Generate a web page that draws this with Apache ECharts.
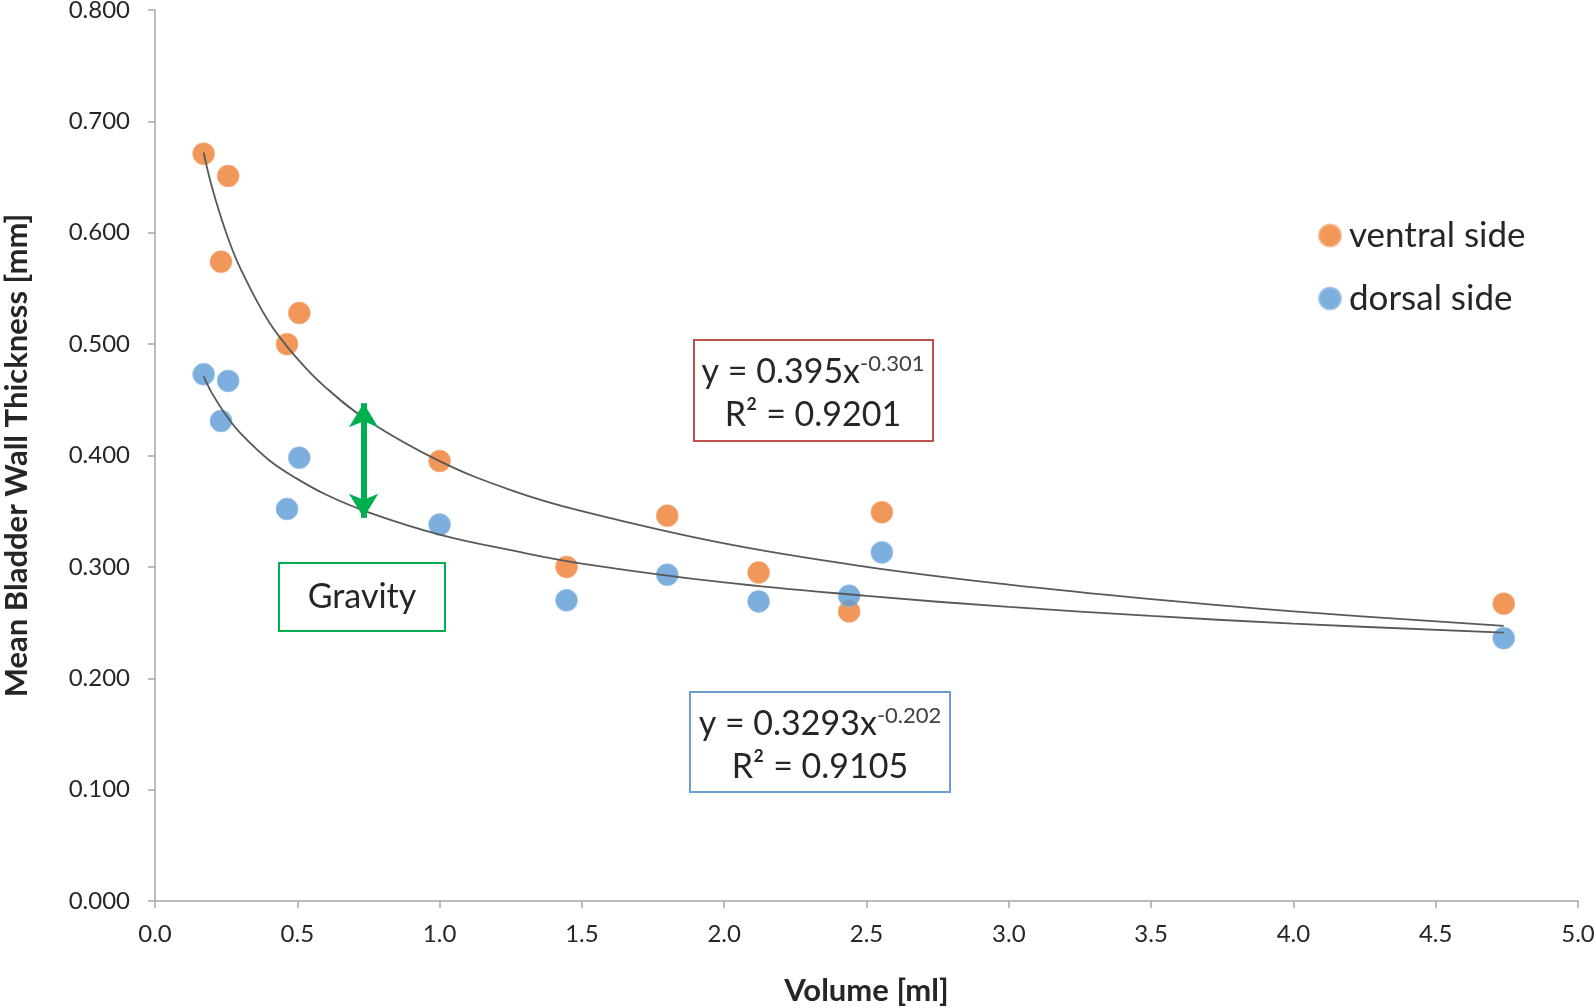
<!DOCTYPE html>
<html>
<head>
<meta charset="utf-8">
<script src="https://cdn.jsdelivr.net/npm/echarts@6/dist/echarts.min.js"></script>
<style>
  html, body { margin: 0; padding: 0; background: #fff; }
  #chart { width: 1594px; height: 1008px; }
</style>
</head>
<body>
<div id="chart"></div>
<script>
// measured volumes (ml), same for both sides
const volumes = [0.171, 0.257, 0.232, 0.507, 0.464, 1.0, 1.446, 1.8, 2.121, 2.439, 2.554, 4.739];
const ventral = [0.671, 0.651, 0.574, 0.528, 0.500, 0.395, 0.300, 0.346, 0.295, 0.260, 0.349, 0.267];
const dorsal = [0.473, 0.467, 0.431, 0.398, 0.352, 0.338, 0.270, 0.293, 0.269, 0.274, 0.313, 0.236];

// trend lines
const trendX = [0.171, 0.2, 0.25, 0.3, 0.4, 0.5, 0.6, 0.75, 1.0, 1.25, 1.5, 2.0, 2.5, 3.0, 3.5, 4.0, 4.739];
const ventralTrend = [0.672, 0.641, 0.600, 0.568, 0.520, 0.487, 0.461, 0.431, 0.395, 0.369, 0.350, 0.321, 0.300, 0.284, 0.271, 0.260, 0.247];
const dorsalTrend = [0.471, 0.456, 0.436, 0.420, 0.396, 0.379, 0.365, 0.349, 0.329, 0.315, 0.303, 0.286, 0.274, 0.264, 0.256, 0.249, 0.241];

// gravity arrow ends
const arrowX = 0.733;
const arrowY = [0.447, 0.344];

const font = 'Lato, "Open Sans", sans-serif';
const axisColor = '#a6a6a6';
const textColor = '#262626';

const zip = (xs, ys) => xs.map((x, i) => [x, ys[i]]);

const chart = echarts.init(document.getElementById('chart'));

const supStyle = {fontSize: 22, fontFamily: font, fill: '#404040', verticalAlign: 'top', padding: [0, 0, 16, 0]};

const option = {
    animation: false,
    backgroundColor: '#fff',
    textStyle: {fontFamily: font},
    grid: {left: 155, right: 16, top: 10, bottom: 107, outerBoundsMode: 'none'},
    legend: {
        data: ['ventral side', 'dorsal side'],
        orient: 'vertical',
        left: 1319 - 6,
        top: 213,
        itemWidth: 22,
        itemHeight: 22,
        itemGap: 28,
        icon: 'circle',
        textStyle: {fontSize: 35, color: textColor, fontFamily: font, padding: [0, 0, 0, 3]}
    },
    xAxis: {
        type: 'value',
        min: 0,
        max: 5,
        interval: 0.5,
        name: 'Volume [ml]',
        nameLocation: 'middle',
        nameGap: 74,
        nameTextStyle: {fontSize: 31, fontWeight: 'bold', color: textColor},
        axisLine: {lineStyle: {color: axisColor, width: 1.5}},
        axisTick: {show: true, length: 7, lineStyle: {color: axisColor, width: 1.5}},
        axisLabel: {
            fontSize: 24,
            color: textColor,
            margin: 21,
            formatter: (v) => v.toFixed(1)
        },
        splitLine: {show: false}
    },
    yAxis: {
        type: 'value',
        min: 0,
        max: 0.8,
        interval: 0.1,
        name: 'Mean Bladder Wall Thickness [mm]',
        nameLocation: 'middle',
        nameGap: 123,
        nameTextStyle: {fontSize: 31, fontWeight: 'bold', color: textColor},
        axisLine: {show: true, lineStyle: {color: axisColor, width: 1.5}},
        axisTick: {show: true, length: 7, lineStyle: {color: axisColor, width: 1.5}},
        axisLabel: {
            fontSize: 24,
            color: textColor,
            margin: 25,
            formatter: (v) => v.toFixed(3)
        },
        splitLine: {show: false}
    },
    series: [
        {
            name: 'ventral side',
            type: 'scatter',
            symbolSize: 22,
            itemStyle: {color: '#ed7d31', borderColor: '#f4b183', borderWidth: 0.8},
            data: zip(volumes, ventral),
            z: 2
        },
        {
            name: 'dorsal side',
            type: 'scatter',
            symbolSize: 22,
            itemStyle: {color: '#5b9bd5', borderColor: '#9dc3e6', borderWidth: 0.8},
            data: zip(volumes, dorsal),
            z: 2
        },
        {
            name: 'ventral trend',
            type: 'line',
            smooth: 0.4,
            showSymbol: false,
            lineStyle: {color: '#595959', width: 1.8},
            data: zip(trendX, ventralTrend),
            z: 3
        },
        {
            name: 'dorsal trend',
            type: 'line',
            smooth: 0.4,
            showSymbol: false,
            lineStyle: {color: '#595959', width: 1.8},
            data: zip(trendX, dorsalTrend),
            z: 3,
            markLine: {
                silent: true,
                symbol: ['arrow', 'arrow'],
                symbolSize: [22, 24],
                label: {show: false},
                lineStyle: {color: '#00b050', width: 6, type: 'solid'},
                data: [[
                    {coord: [arrowX, arrowY[0]]},
                    {coord: [arrowX, arrowY[1]]}
                ]]
            }
        }
    ],
    graphic: [
        {
            type: 'rect',
            shape: {x: 694, y: 340, width: 239, height: 101},
            style: {fill: '#fff', stroke: '#c0504d', lineWidth: 2},
            z: 10
        },
        {
            type: 'text',
            x: 813, y: 372,
            style: {
                text: '{b|y = 0.395x}{s|-0.301}',
                align: 'center', verticalAlign: 'middle',
                rich: {b: {fontSize: 34, fontFamily: font, fill: textColor}, s: supStyle}
            },
            z: 11
        },
        {
            type: 'text',
            x: 813, y: 415,
            style: {text: 'R² = 0.9201', fontSize: 34, fontFamily: font, fill: textColor, align: 'center', verticalAlign: 'middle'},
            z: 11
        },
        {
            type: 'rect',
            shape: {x: 690, y: 692, width: 260, height: 100},
            style: {fill: '#fff', stroke: '#6c9fd1', lineWidth: 2},
            z: 10
        },
        {
            type: 'text',
            x: 820, y: 724,
            style: {
                text: '{b|y = 0.3293x}{s|-0.202}',
                align: 'center', verticalAlign: 'middle',
                rich: {b: {fontSize: 34, fontFamily: font, fill: textColor}, s: supStyle}
            },
            z: 11
        },
        {
            type: 'text',
            x: 820, y: 767,
            style: {text: 'R² = 0.9105', fontSize: 34, fontFamily: font, fill: textColor, align: 'center', verticalAlign: 'middle'},
            z: 11
        },
        {
            type: 'rect',
            shape: {x: 279, y: 563, width: 166, height: 68},
            style: {fill: '#fff', stroke: '#00b050', lineWidth: 2},
            z: 10
        },
        {
            type: 'text',
            x: 362, y: 597,
            style: {text: 'Gravity', fontSize: 34, fontFamily: font, fill: textColor, align: 'center', verticalAlign: 'middle'},
            z: 11
        }
    ]
};

chart.setOption(option);
</script>
</body>
</html>
